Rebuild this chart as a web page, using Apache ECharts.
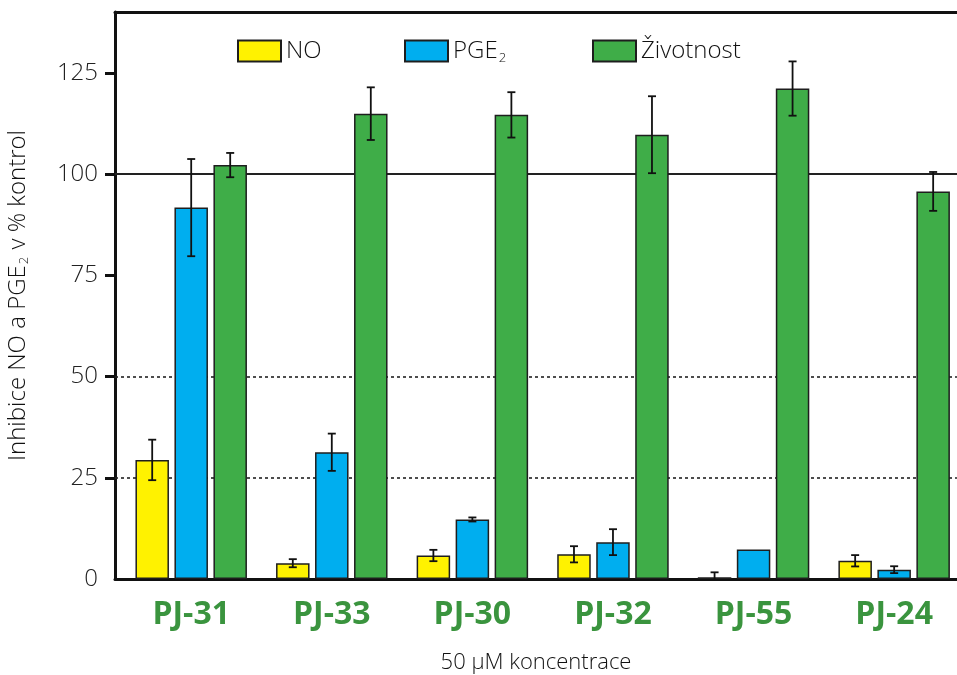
<!DOCTYPE html>
<html>
<head>
<meta charset="utf-8">
<style>
  html, body { margin: 0; padding: 0; background: #fff; }
  #chart { width: 957px; height: 675px; }
</style>
<script src="https://cdn.jsdelivr.net/npm/echarts@6/dist/echarts.min.js"></script>
</head>
<body>
<div id="chart"></div>
<script>
// Compounds tested at 50 µM
const categories = ['PJ-31', 'PJ-33', 'PJ-30', 'PJ-32', 'PJ-55', 'PJ-24'];

// Mean values (% of control) and their error ranges
const noValues = [29.4, 3.9, 5.8, 6.1, 0.45, 4.5];
const noErrors = [5.0, 1.0, 1.4, 2.0, 1.2, 1.4];

const pgeValues = [91.7, 31.3, 14.7, 9.1, 7.3, 2.3];
const pgeErrors = [12.0, 4.6, 0.5, 3.2, 0, 0.85];

const viabilityValues = [102.2, 114.9, 114.6, 109.7, 121.1, 95.7];
const viabilityErrors = [3.0, 6.5, 5.6, 9.5, 6.7, 4.8];

const yTickLabels = [0, 25, 50, 75, 100, 125];
const yTickMarks = [25, 50, 75, 100, 125];
const dottedRefs = [25, 50];
const solidRefs = [100];

// Styling
const FONT = "'Open Sans', 'Noto Sans', sans-serif";
const BAR_W = 33.5;
const BAR_GAP = 5.5;
const COLORS = { no: '#FFF200', pge: '#00AEEF', viab: '#3FAD48' };
const EDGE = '#1e1e1e';
const LABEL_GREEN = '#3A943E';
const X_MIN = -0.542;
const X_MAX = 5.447;

const chart = echarts.init(document.getElementById('chart'), null, { renderer: 'canvas' });

function pairs(vals) { return vals.map((v, i) => [i, v]); }
function triples(vals, errs) { return vals.map((v, i) => [i, v, errs[i]]); }

function barSeries(name, vals, color, extra) {
  return Object.assign({
    name: name,
    type: 'bar',
    xAxisIndex: 0,
    barWidth: BAR_W,
    barGap: (BAR_GAP / BAR_W * 100).toFixed(1) + '%',
    z: 2,
    itemStyle: { color: color, borderColor: EDGE, borderWidth: 1.5 },
    data: pairs(vals)
  }, extra || {});
}

function errorSeries(vals, errs, slot) {
  return {
    type: 'custom',
    xAxisIndex: 0,
    z: 4,
    clip: true,
    silent: true,
    data: triples(vals, errs),
    renderItem: function (params, api) {
      const x = api.value(0), y = api.value(1), e = api.value(2);
      if (!e) return null;
      const off = (slot - 1) * (BAR_W + BAR_GAP);
      const hi = api.coord([x, y + e]);
      const lo = api.coord([x, y - e]);
      const cx = hi[0] + off;
      const cap = 4;
      const style = { stroke: '#111', lineWidth: 1.8 };
      return {
        type: 'group',
        children: [
          { type: 'line', shape: { x1: cx, y1: hi[1], x2: cx, y2: lo[1] }, style: style },
          { type: 'line', shape: { x1: cx - cap, y1: hi[1], x2: cx + cap, y2: hi[1] }, style: style },
          { type: 'line', shape: { x1: cx - cap, y1: lo[1], x2: cx + cap, y2: lo[1] }, style: style }
        ]
      };
    }
  };
}

const refLines = [];
dottedRefs.forEach(v => refLines.push({ yAxis: v, lineStyle: { type: [3, 3], width: 1.6, color: '#222' } }));
solidRefs.forEach(v => refLines.push({ yAxis: v, lineStyle: { type: 'solid', width: 1.8, color: '#222' } }));

const legendText = {
  fontFamily: FONT, fontSize: 24, fontWeight: 300, color: '#111',
  rich: {
    a: { fontFamily: FONT, fontSize: 24, fontWeight: 300, color: '#111' },
    s: { fontFamily: FONT, fontSize: 13, fontWeight: 300, color: '#111', padding: [14, 0, 0, 1] }
  }
};
function legendAt(left, name) {
  return {
    left: left, top: 34,
    itemWidth: 43, itemHeight: 21, itemGap: 0,
    icon: 'rect',
    selectedMode: false,
    data: [name],
    textStyle: legendText,
    formatter: n => n === 'PGE2' ? '{a|PGE}{s|2}' : n
  };
}

const option = {
  backgroundColor: '#fff',
  animation: false,
  grid: { left: 115, right: 0, top: 12, bottom: 96, containLabel: false, outerBoundsMode: 'none' },
  legend: [legendAt(232, 'NO'), legendAt(399, 'PGE2'), legendAt(587, 'Životnost')],
  xAxis: [
    {
      type: 'value',
      min: X_MIN, max: X_MAX,
      axisLine: { show: true, onZero: false, lineStyle: { color: '#111', width: 3 } },
      axisTick: { show: false },
      splitLine: { show: false },
      axisLabel: {
        customValues: categories.map((c, i) => i),
        formatter: v => categories[Math.round(v)] || '',
        fontFamily: FONT, fontWeight: 'bold', fontSize: 32, color: LABEL_GREEN,
        margin: 20
      },
      name: '50 µM koncentrace',
      nameLocation: 'middle',
      nameGap: 73,
      nameTextStyle: { fontFamily: FONT, fontWeight: 300, fontSize: 22, color: '#111' }
    },
    {
      type: 'value',
      position: 'top',
      min: X_MIN, max: X_MAX,
      axisLine: { show: true, onZero: false, lineStyle: { color: '#111', width: 3 } },
      axisTick: { show: false },
      axisLabel: { show: false },
      splitLine: { show: false }
    }
  ],
  yAxis: {
    type: 'value',
    min: 0, max: 140,
    axisLine: { show: true, onZero: false, lineStyle: { color: '#111', width: 3 } },
    axisTick: { show: true, customValues: yTickMarks, length: 10, lineStyle: { color: '#111', width: 3 } },
    splitLine: { show: false },
    axisLabel: {
      customValues: yTickLabels,
      fontFamily: FONT, fontWeight: 300, fontSize: 24, color: '#222', margin: 17
    },
    name: '{a|Inhibice NO a PGE}{s|2}{a| v % kontrol}',
    nameLocation: 'middle',
    nameGap: 84,
    nameTextStyle: {
      fontFamily: FONT, fontWeight: 300, fontSize: 24, color: '#111',
      rich: {
        a: { fontFamily: FONT, fontWeight: 300, fontSize: 24, color: '#111' },
        s: { fontFamily: FONT, fontWeight: 300, fontSize: 13, color: '#111', padding: [13, 1, 0, 1] }
      }
    }
  },
  series: [
    barSeries('NO', noValues, COLORS.no, {
      markLine: { silent: true, symbol: 'none', z: 1, label: { show: false }, data: refLines }
    }),
    barSeries('PGE2', pgeValues, COLORS.pge),
    barSeries('Životnost', viabilityValues, COLORS.viab),
    errorSeries(noValues, noErrors, 0),
    errorSeries(pgeValues, pgeErrors, 1),
    errorSeries(viabilityValues, viabilityErrors, 2)
  ]
};

chart.setOption(option);
</script>
</body>
</html>
